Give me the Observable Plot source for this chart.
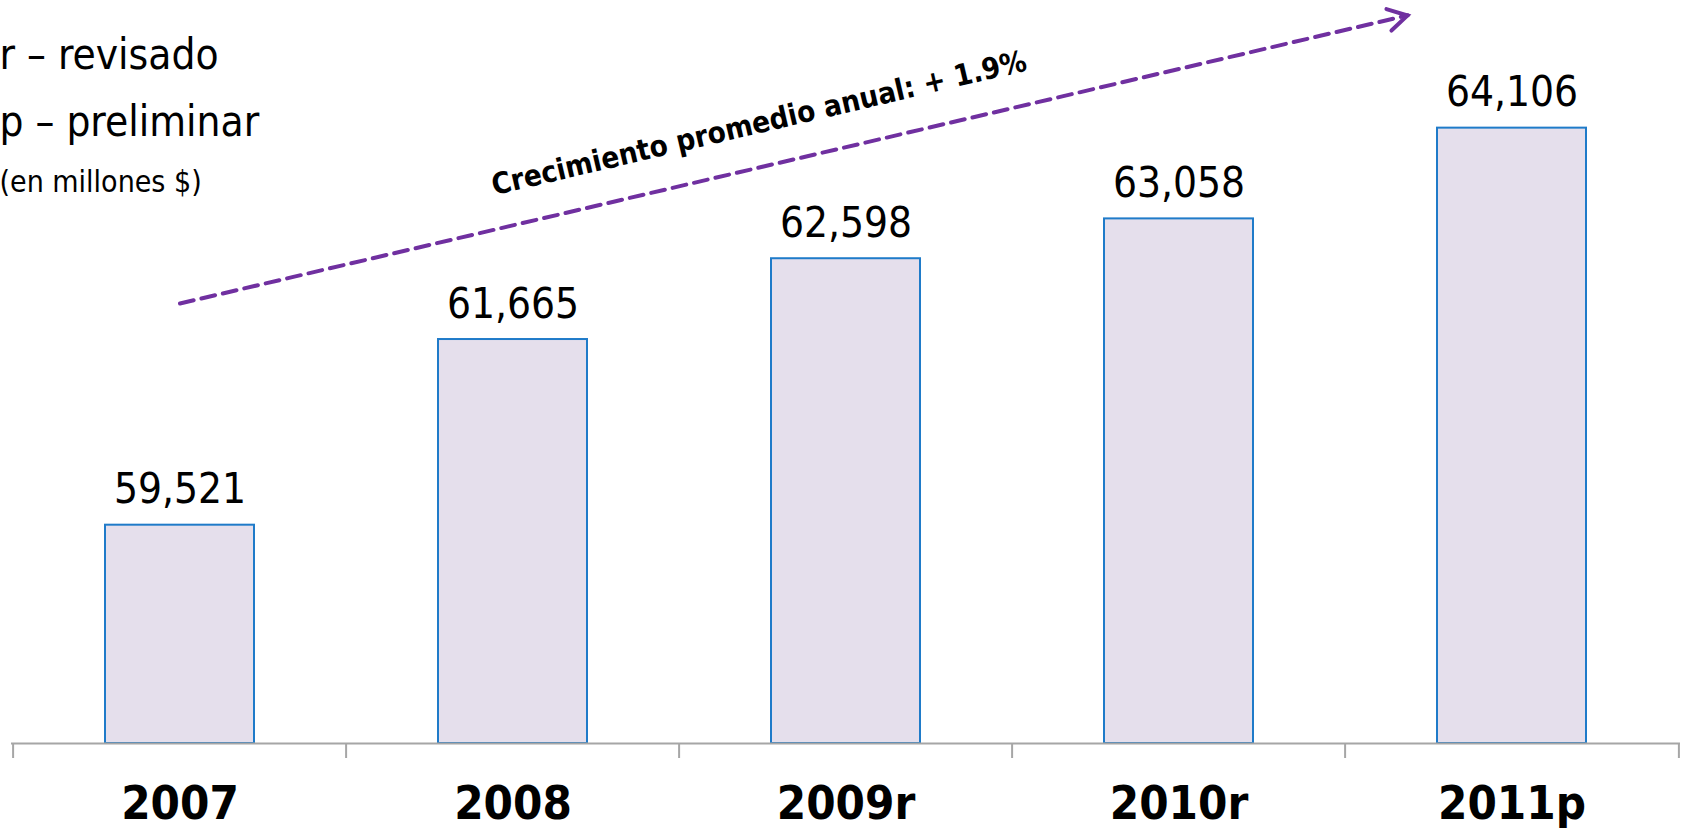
<!DOCTYPE html>
<html>
<head>
<meta charset="utf-8">
<script src="https://cdn.jsdelivr.net/npm/d3@7"></script>
<script src="https://cdn.jsdelivr.net/npm/@observablehq/plot@0.6"></script>
<style>
  html, body { margin: 0; padding: 0; background: #fff; }
  #chart svg { display: block; }
</style>
</head>
<body>
<div id="chart"></div>
<script>
// ---- data ----
const categories = ["2007", "2008", "2009r", "2010r", "2011p"];
const values = [59521, 61665, 62598, 63058, 64106];
const legendLines = ["r – revisado", "p – preliminar"];
const unitLabel = "(en millones $)";
const growthLabel = "Crecimiento promedio anual: + 1.9%";
const growthArrow = [{from: "2007", to: "2011p", v1: 62081, v2: 65692}];
const growthHead = [{x: "2011p", v: 65407}];
const growthText = [{x: "2009r", v: 64160}];

const rows = categories.map((c, i) => ({cat: c, value: values[i]}));

// ---- layout ----
const W = 1684, H = 828;
const mL = 11, mR = 4, mT = 0, mB = 85;
const yDomain = [57000, 65580];
const step = (W - mL - mR) / categories.length;
const k = (H - mT - mB) / (yDomain[1] - yDomain[0]);
const purple = "#7030A0";
const font = "'DejaVu Sans Condensed', 'DejaVu Sans', sans-serif";
const angle = 13.2;

// open chevron arrowhead pointing along +x, tip at origin
const chevron = {
  draw(ctx) {
    const s = 22, a = 30 * Math.PI / 180;
    ctx.moveTo(-s * Math.cos(a), -s * Math.sin(a));
    ctx.lineTo(0, 0);
    ctx.lineTo(-s * Math.cos(a), s * Math.sin(a));
  }
};

const chart = Plot.plot({
  width: W,
  height: H,
  marginLeft: mL,
  marginRight: mR,
  marginTop: mT,
  marginBottom: mB,
  style: {fontFamily: font, fontStretch: "condensed", background: "#fff", color: "#000", overflow: "visible"},
  x: {domain: categories, paddingInner: 0.554, paddingOuter: 0.277, label: null},
  y: {domain: yDomain, axis: null},
  marks: [
    Plot.barY(rows, {x: "cat", y1: yDomain[0], y2: "value", fill: "#E5DFEC", stroke: "#1F7BC9", strokeWidth: 2}),
    Plot.ruleY([yDomain[0]], {stroke: "#a6a6a6", strokeWidth: 2}),
    Plot.ruleX(categories, {x: d => d, y1: yDomain[0], y2: yDomain[0] - 15 / k, dx: -step / 2, stroke: "#a6a6a6", strokeWidth: 2}),
    Plot.ruleX(categories.slice(-1), {x: d => d, y1: yDomain[0], y2: yDomain[0] - 15 / k, dx: step / 2, stroke: "#a6a6a6", strokeWidth: 2}),
    Plot.axisX({tickSize: 0, tickPadding: 42, fontSize: 47, fontWeight: "bold", label: null}),
    Plot.text(rows, {x: "cat", y: "value", text: d => d3.format(",")(d.value), dy: -22, lineAnchor: "bottom", fontSize: 42, fill: "#000"}),
    // growth arrow: dashed shaft + solid open head
    Plot.arrow(growthArrow, {x1: "from", y1: "v1", x2: "to", y2: "v2", stroke: purple, strokeWidth: 4, strokeDasharray: "14,8", headLength: 0, insetEnd: 107}),
    Plot.dot(growthHead, {x: "x", y: "v", dx: -104.5, symbol: chevron, rotate: -angle, r: 10, fill: "none", stroke: purple, strokeWidth: 4, strokeLinejoin: "miter", strokeLinecap: "round"}),
    Plot.text(growthText, {x: "x", y: "v", text: () => growthLabel, rotate: -angle, dx: -87, fontSize: 29.5, fontWeight: "bold", fill: "#000"}),
    // legend notes
    Plot.text([legendLines[0]], {frameAnchor: "top-left", dx: -12, dy: 68, lineAnchor: "bottom", textAnchor: "start", fontSize: 42, fill: "#000"}),
    Plot.text([legendLines[1]], {frameAnchor: "top-left", dx: -12, dy: 135, lineAnchor: "bottom", textAnchor: "start", fontSize: 42, fill: "#000"}),
    Plot.text([unitLabel], {frameAnchor: "top-left", dx: -12, dy: 191, lineAnchor: "bottom", textAnchor: "start", fontSize: 30, fill: "#000"})
  ]
});
document.getElementById("chart").appendChild(chart);
</script>
</body>
</html>
